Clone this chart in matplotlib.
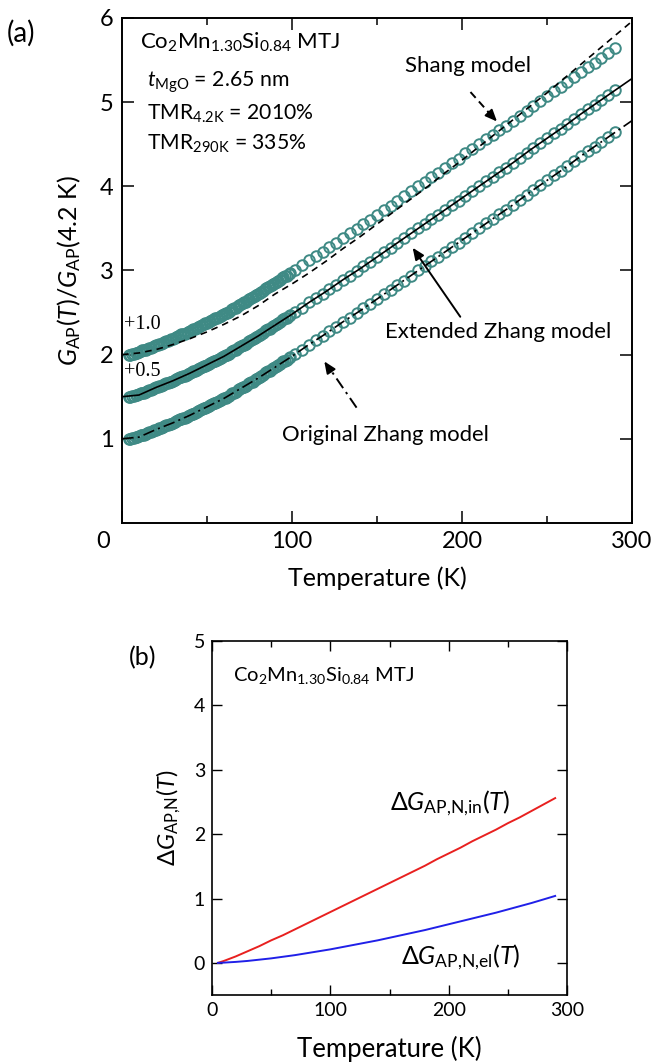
import matplotlib
matplotlib.use('Agg')
import matplotlib.pyplot as plt
from matplotlib.ticker import FixedLocator

plt.rcParams['font.family'] = ['Lato', 'DejaVu Sans']
plt.rcParams['mathtext.fontset'] = 'custom'
plt.rcParams['mathtext.rm'] = 'Lato'
plt.rcParams['mathtext.it'] = 'Lato:italic'
plt.rcParams['mathtext.bf'] = 'Lato:bold'
plt.rcParams['mathtext.fallback'] = 'stixsans'

# ---------------- data: panel (a) ----------------
T_meas = [4.2, 5, 6, 7, 8, 9, 10, 11, 12, 13, 14, 15, 16, 17, 18, 19, 20, 21, 22, 23, 24,
          25, 26, 27, 28, 29, 30, 31, 32, 33, 34, 35, 36, 37, 38, 39, 40, 41, 42, 43, 44,
          45, 46, 47, 48, 49, 50, 51, 52, 53, 54, 55, 56, 57, 58, 59, 60, 61, 62, 63, 64,
          65, 66, 67, 68, 69, 70, 71, 72, 73, 74, 75, 76, 77, 78, 79, 80, 81, 82, 83, 84,
          85, 86, 87, 88, 89, 90, 91, 92, 93, 94, 95, 96, 97, 98, 99,
          102, 106, 110, 114, 118, 122, 126, 130, 134, 138, 142, 146, 150, 154, 158,
          162, 166, 170, 174, 178, 182, 186, 190, 194, 198, 202, 206, 210, 214, 218,
          222, 226, 230, 234, 238, 242, 246, 250, 254, 258, 262, 266, 270, 274, 278,
          282, 286, 290]
G_meas = [1.00, 1.00, 1.01, 1.01, 1.02, 1.02, 1.03, 1.04, 1.05, 1.05, 1.06, 1.07, 1.08,
          1.08, 1.09, 1.10, 1.11, 1.12, 1.13, 1.13, 1.14, 1.15, 1.16, 1.16, 1.17, 1.18,
          1.19, 1.20, 1.21, 1.22, 1.23, 1.24, 1.25, 1.25, 1.26, 1.27, 1.28, 1.29, 1.30,
          1.31, 1.32, 1.33, 1.34, 1.35, 1.36, 1.37, 1.38, 1.39, 1.40, 1.41, 1.42, 1.43,
          1.44, 1.45, 1.46, 1.47, 1.48, 1.49, 1.50, 1.51, 1.53, 1.54, 1.55, 1.56, 1.58,
          1.59, 1.60, 1.61, 1.62, 1.63, 1.65, 1.66, 1.67, 1.68, 1.70, 1.71, 1.72, 1.73,
          1.75, 1.76, 1.78, 1.79, 1.80, 1.81, 1.83, 1.84, 1.85, 1.86, 1.88, 1.89, 1.91,
          1.92, 1.93, 1.94, 1.96, 1.97,
          2.01, 2.06, 2.12, 2.17, 2.22, 2.28, 2.33, 2.39, 2.44, 2.49, 2.55, 2.60, 2.66,
          2.72, 2.77, 2.83, 2.88, 2.94, 3.00, 3.05, 3.11, 3.16, 3.22, 3.28, 3.33, 3.39,
          3.44, 3.50, 3.56, 3.61, 3.67, 3.72, 3.78, 3.84, 3.90, 3.96, 4.01, 4.07, 4.13,
          4.18, 4.24, 4.30, 4.36, 4.42, 4.47, 4.53, 4.58, 4.64]
offsets = [0.0, 0.5, 1.0]
offset_labels = ['+0.5', '+1.0']

T_model = [0, 10, 20, 30, 40, 50, 60, 70, 80, 90, 100, 110, 120, 130, 140, 150, 160,
           170, 180, 190, 200, 210, 220, 230, 240, 250, 260, 270, 280, 290, 300]
zhang_original = [1.00, 1.02, 1.11, 1.19, 1.28, 1.38, 1.48, 1.60, 1.72, 1.85, 1.98, 2.12,
                  2.25, 2.39, 2.52, 2.66, 2.80, 2.94, 3.08, 3.22, 3.36, 3.50, 3.64, 3.78,
                  3.93, 4.07, 4.21, 4.36, 4.50, 4.64, 4.78]
zhang_extended = [1.50, 1.52, 1.61, 1.69, 1.78, 1.88, 1.98, 2.10, 2.22, 2.35, 2.48, 2.62,
                  2.75, 2.89, 3.02, 3.16, 3.30, 3.44, 3.58, 3.72, 3.86, 4.00, 4.14, 4.28,
                  4.43, 4.57, 4.71, 4.86, 5.00, 5.14, 5.28]
shang = [2.00, 2.02, 2.06, 2.12, 2.19, 2.27, 2.36, 2.46, 2.58, 2.72, 2.84, 2.97, 3.11,
         3.26, 3.40, 3.55, 3.70, 3.85, 4.00, 4.16, 4.31, 4.47, 4.63, 4.79, 4.95, 5.11,
         5.28, 5.45, 5.62, 5.79, 5.96]

# ---------------- data: panel (b) ----------------
T_b = [5, 10, 20, 30, 40, 50, 60, 70, 80, 90, 100, 110, 120, 130, 140, 150, 160, 170,
       180, 190, 200, 210, 220, 230, 240, 250, 260, 270, 280, 290]
dG_in = [0.00, 0.03, 0.10, 0.18, 0.26, 0.35, 0.43, 0.52, 0.61, 0.70, 0.79, 0.88, 0.97,
         1.06, 1.15, 1.24, 1.33, 1.42, 1.51, 1.61, 1.70, 1.79, 1.89, 1.98, 2.07, 2.17,
         2.26, 2.36, 2.46, 2.56]
dG_el = [0.00, 0.004, 0.015, 0.03, 0.05, 0.07, 0.095, 0.12, 0.15, 0.18, 0.21, 0.245,
         0.28, 0.315, 0.35, 0.39, 0.43, 0.47, 0.51, 0.555, 0.60, 0.645, 0.69, 0.735,
         0.78, 0.83, 0.88, 0.93, 0.985, 1.04]

teal = '#3f8a85'

fig = plt.figure(figsize=(6.53, 10.64), dpi=100)

# ================= panel (a) =================
axa = fig.add_axes([0.1868, 0.5085, 0.781, 0.4746])
for off in offsets:
    axa.plot(T_meas, [g + off for g in G_meas], 'o', mfc='none', mec=teal,
             ms=7.6, mew=1.4, zorder=2)
axa.plot(T_model, zhang_original, color='black', lw=1.2, dashes=(7, 2.5, 1.2, 2.5), zorder=3)
axa.plot(T_model, zhang_extended, color='black', lw=1.2, zorder=3)
axa.plot(T_model, shang, color='black', lw=1.2, dashes=(4, 3), zorder=3)

axa.set_xlim(0, 300)
axa.set_ylim(0, 6)
axa.xaxis.set_major_locator(FixedLocator([0, 100, 200, 300]))
axa.xaxis.set_minor_locator(FixedLocator([50, 150, 250]))
axa.set_xticklabels(['', '100', '200', '300'])
axa.yaxis.set_major_locator(FixedLocator([1, 2, 3, 4, 5, 6]))
axa.tick_params(which='both', direction='in', top=True, right=True, width=1.1,
                labelsize=17, pad=6)
axa.tick_params(which='major', length=8.5)
axa.tick_params(which='minor', length=5)
for s in axa.spines.values():
    s.set_linewidth(1.4)
axa.text(-11, -0.1, '0', fontsize=17, ha='center', va='top')
axa.set_xlabel('Temperature (K)', fontsize=18, labelpad=10)
axa.set_ylabel(r'$G_{\mathrm{AP}}(T)/G_{\mathrm{AP}}(4.2\ \mathrm{K})$', fontsize=18, labelpad=12)

fig.text(0.011, 0.969, '(a)', fontsize=20, ha='left', va='center')

axa.text(10.5, 5.71, r'Co$_2$Mn$_{1.30}$Si$_{0.84}$ MTJ', fontsize=16, ha='left', va='center')
axa.text(14.5, 5.24, r'$t_{\mathrm{MgO}}$ = 2.65 nm', fontsize=15.3, ha='left', va='center')
axa.text(14.5, 4.86, r'TMR$_{4.2\mathrm{K}}$ = 2010%', fontsize=15.2, ha='left', va='center')
axa.text(14.5, 4.50, r'TMR$_{290\mathrm{K}}$ = 335%', fontsize=15.2, ha='left', va='center')

axa.text(1.0, 2.36, offset_labels[1], fontsize=14.5, family='Liberation Serif',
         ha='left', va='center')
axa.text(1.0, 1.80, offset_labels[0], fontsize=14.5, family='Liberation Serif',
         ha='left', va='center')

# Shang model annotation
axa.text(203.5, 5.43, 'Shang model', fontsize=16, ha='center', va='center')
axa.plot([205, 216.5], [5.12, 4.86], color='black', lw=1.4, dashes=(4, 2.5))
axa.annotate('', xy=(220.6, 4.77), xytext=(215.5, 4.88),
             arrowprops=dict(arrowstyle='-|>,head_length=0.7,head_width=0.3',
                             color='black', lw=1.4, shrinkA=0, shrinkB=0))
# Extended Zhang model annotation
axa.text(221, 2.27, 'Extended Zhang model', fontsize=16, ha='center', va='center')
axa.annotate('', xy=(171, 3.27), xytext=(199, 2.45),
             arrowprops=dict(arrowstyle='-|>,head_length=0.7,head_width=0.3',
                             color='black', lw=1.4, shrinkA=0, shrinkB=0))
# Original Zhang model annotation
axa.text(155, 1.05, 'Original Zhang model', fontsize=15.8, ha='center', va='center')
axa.plot([138, 122], [1.37, 1.84], color='black', lw=1.4, dashes=(6, 2.5, 1.2, 2.5))
axa.annotate('', xy=(119, 1.92), xytext=(123, 1.80),
             arrowprops=dict(arrowstyle='-|>,head_length=0.7,head_width=0.3',
                             color='black', lw=1.4, shrinkA=0, shrinkB=0))

# ================= panel (b) =================
axb = fig.add_axes([0.3247, 0.0648, 0.5436, 0.3327])
axb.plot(T_b, dG_in, color='#e8201f', lw=1.4)
axb.plot(T_b, dG_el, color='#2020e8', lw=1.4)
axb.set_xlim(0, 300)
axb.set_ylim(-0.5, 5)
axb.xaxis.set_major_locator(FixedLocator([0, 100, 200, 300]))
axb.xaxis.set_minor_locator(FixedLocator([50, 150, 250]))
axb.yaxis.set_major_locator(FixedLocator([0, 1, 2, 3, 4, 5]))
axb.tick_params(which='both', direction='in', top=True, right=True, width=1.0,
                labelsize=14, pad=5)
axb.tick_params(which='major', length=7)
axb.tick_params(which='minor', length=4.5)
for s in axb.spines.values():
    s.set_linewidth(1.2)
axb.set_xlabel('Temperature (K)', fontsize=18.5, labelpad=12)
axb.set_ylabel(r'$\Delta G_{\mathrm{AP{,}N}}(T)$', fontsize=17, labelpad=8)
fig.text(0.219, 0.382, '(b)', fontsize=18, ha='center', va='center')
axb.text(17.7, 4.47, r'Co$_2$Mn$_{1.30}$Si$_{0.84}$ MTJ', fontsize=14.5, ha='left', va='center')
axb.text(150, 2.48, r'$\Delta G_{\mathrm{AP{,}N{,}in}}(T)$', fontsize=18, ha='left', va='center')
axb.text(160, 0.09, r'$\Delta G_{\mathrm{AP{,}N{,}el}}(T)$', fontsize=18, ha='left', va='center')

fig.savefig('out.png', dpi=100)
